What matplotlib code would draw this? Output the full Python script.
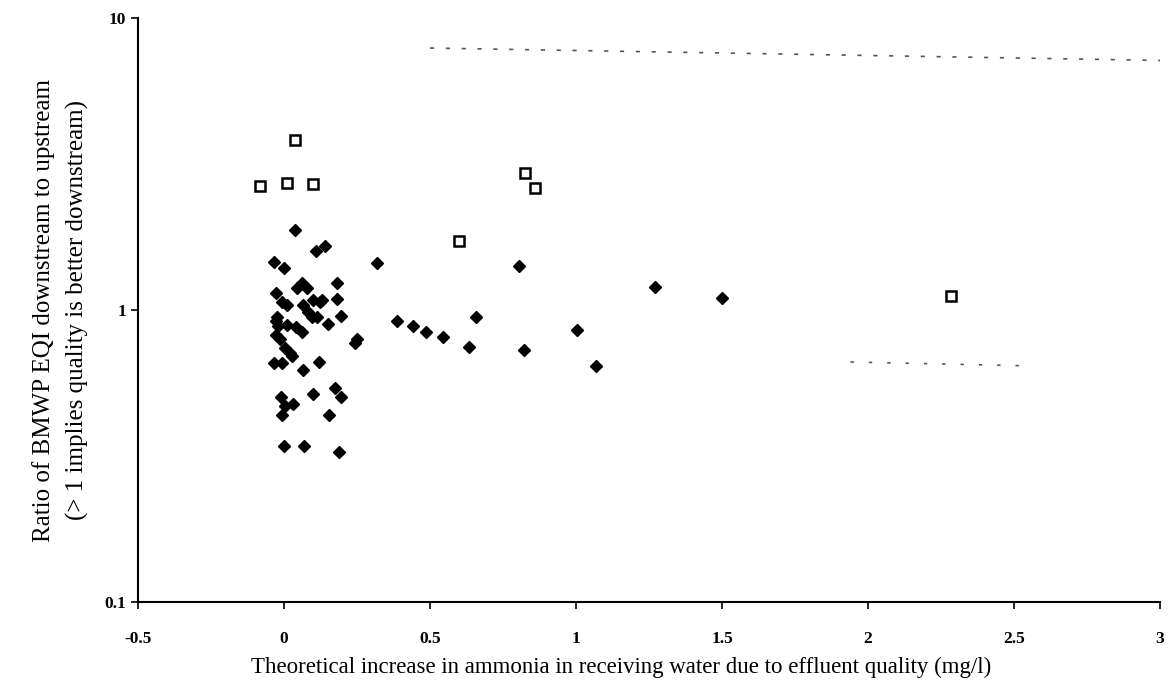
from matplotlib import pyplot as plt
from matplotlib.ticker import FixedLocator, NullLocator, FixedFormatter

# Sites where the downstream EQI ratio was measured (filled diamonds)
ammonia_x = [0.038, 0.140, 0.110, -0.034, 0.000, 0.318, 0.062, 0.045, 0.079, 0.182,
             -0.027, -0.007, 0.010, 0.099, 0.130, 0.182, 0.065, -0.024, 0.096, 0.195,
             0.082, -0.027, -0.020, 0.010, 0.041, 0.062, 0.151, -0.027, -0.014, 0.003,
             0.021, 0.027, 0.250, 0.243, -0.034, -0.007, 0.065, 0.120, -0.010, 0.003,
             0.031, 0.099, -0.007, 0.175, 0.195, 0.154, 0.000, 0.068, 0.188, 0.387,
             0.442, 0.486, 0.545, 0.634, 0.657, 0.805, 0.822, 1.003, 1.068, 1.270,
             1.500, 0.123, 0.113]
ratio = [1.88, 1.66, 1.59, 1.46, 1.39, 1.45, 1.24, 1.19, 1.19, 1.24,
         1.14, 1.065, 1.04, 1.08, 1.08, 1.09, 1.04, 0.946, 0.946, 0.954,
         0.984, 0.917, 0.88, 0.888, 0.875, 0.841, 0.895, 0.821, 0.796, 0.741,
         0.713, 0.696, 0.796, 0.771, 0.658, 0.658, 0.623, 0.664, 0.504, 0.469,
         0.477, 0.516, 0.437, 0.541, 0.504, 0.437, 0.342, 0.342, 0.327, 0.917,
         0.882, 0.841, 0.808, 0.747, 0.946, 1.415, 0.729, 0.854, 0.643, 1.20,
         1.10, 1.065, 0.946]

# Second group (open squares)
sq_x = [-0.082, 0.010, 0.100, 0.038, 0.600, 0.825, 0.860, 2.284]
sq_ratio = [2.66, 2.72, 2.70, 3.82, 1.72, 2.95, 2.62, 1.12]

# faint dashed guide lines
upper_x = [0.5, 3.05]
upper_y = [7.9, 7.15]
lower_x = [1.94, 2.52]
lower_y = [0.664, 0.645]

xticks = [-0.5, 0, 0.5, 1, 1.5, 2, 2.5, 3]
xtick_labels = ['-0.5', '0', '0.5', '1', '1.5', '2', '2.5', '3']
yticks = [0.1, 1, 10]
ytick_labels = ['0.1', '1', '10']

plt.rcParams['font.family'] = ['Liberation Serif', 'DejaVu Serif']

fig = plt.figure(figsize=(11.73, 6.98), dpi=100)
ax = fig.add_axes([0.1176, 0.1375, 0.8714, 0.8365])

ax.plot(upper_x, upper_y, color='#555555', linewidth=1.2, dashes=(2.5, 7))
ax.plot(lower_x, lower_y, color='#555555', linewidth=1.2, dashes=(2, 9))

ax.plot(ammonia_x, ratio, linestyle='none', marker='D', markersize=6.5,
        color='black', markeredgecolor='black')
ax.plot(sq_x, sq_ratio, linestyle='none', marker='s', markersize=7,
        markerfacecolor='white', markeredgecolor='black', markeredgewidth=1.8)

ax.set_yscale('log')
ax.set_xlim(-0.5, 3)
ax.set_ylim(0.1, 10)

ax.xaxis.set_major_locator(FixedLocator(xticks))
ax.xaxis.set_major_formatter(FixedFormatter(xtick_labels))
ax.yaxis.set_major_locator(FixedLocator(yticks))
ax.yaxis.set_major_formatter(FixedFormatter(ytick_labels))
ax.yaxis.set_minor_locator(NullLocator())
ax.xaxis.set_minor_locator(NullLocator())

for side in ['top', 'right']:
    ax.spines[side].set_visible(False)
for side in ['left', 'bottom']:
    ax.spines[side].set_linewidth(1.5)
ax.tick_params(direction='out', length=5, width=1.2, labelsize=12.5)
ax.tick_params(axis='x', pad=16)
for lab in ax.get_xticklabels() + ax.get_yticklabels():
    lab.set_fontweight('bold')

ax.set_xlabel('Theoretical increase in ammonia in receiving water due to effluent quality (mg/l)',
              fontsize=16.5)
ax.xaxis.set_label_coords(0.473, -0.094)
ax.set_ylabel('Ratio of BMWP EQI downstream to upstream\n(> 1 implies quality is better downstream)',
              fontsize=18, linespacing=1.6)
ax.yaxis.set_label_coords(-0.048, 0.5)

fig.savefig('out.png', dpi=100)
